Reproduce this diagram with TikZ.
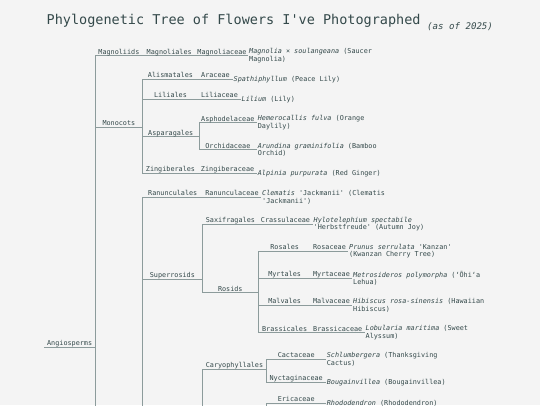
\documentclass[tikz,border=0pt]{standalone}
\usepackage{fontspec}
\setmonofont{DejaVu Sans Mono}
\definecolor{paper}{HTML}{F4F4F4}
\definecolor{ink}{HTML}{34494A}
\definecolor{twig}{HTML}{8C9B9B}
\tikzset{
    every node/.style={text=ink},
    branch/.style={
        draw=twig,
        line width=0.7pt},
    clade/.style={
        anchor=base,
        yshift=1.4pt,
        inner sep=0pt,
        font=\ttfamily\fontsize{6.8}{7.4}\selectfont},
    leaf/.style={
        anchor=west,
        inner sep=1pt,
        align=left,
        font=\ttfamily\fontsize{6.8}{7.3}\selectfont}}

\begin{document}
\begin{tikzpicture}[x=1pt,y=-1pt]
    \fill[paper] (0,0) rectangle (540,405);
    \useasboundingbox (0,0) rectangle (540,405);
    \clip (0,0) rectangle (540,405);

    \node[anchor=base west, inner sep=0pt, font=\ttfamily\fontsize{13.5}{16}\selectfont] (title) at (46.5,24) {Phylogenetic Tree of Flowers I've Photographed};
    \node[anchor=base west, inner sep=0pt, font=\ttfamily\itshape\fontsize{9.1}{11}\selectfont] (asof) at (427,29.5) {(as of 2025)};

    % branch points
    \coordinate (rootstart) at (44,347);
    \coordinate (angio) at (95.3,347);
    \coordinate (magnoliids) at (142.5,55.7);
    \coordinate (magnoliales) at (196,55.7);
    \coordinate (magnoliaceae) at (248,55.7);
    \coordinate (monocots) at (142.5,127.3);
    \coordinate (alismatales) at (198.5,79.3);
    \coordinate (araceae) at (232.5,79.3);
    \coordinate (liliales) at (198.5,99.3);
    \coordinate (liliaceae) at (240.5,99.3);
    \coordinate (asparagales) at (199,136.5);
    \coordinate (asphodelaceae) at (256.7,122.7);
    \coordinate (orchidaceae) at (256.7,149.7);
    \coordinate (zingiberales) at (198.5,173.3);
    \coordinate (zingiberaceae) at (256.7,173.3);
    \coordinate (eudicots) at (142.5,640);
    \coordinate (ranunculales) at (203,197.3);
    \coordinate (ranunculaceae) at (261,197.3);
    \coordinate (superrosids) at (202.3,279.3);
    \coordinate (saxifragales) at (258.5,224.3);
    \coordinate (crassulaceae) at (312.5,224.3);
    \coordinate (rosids) at (258.3,292.5);
    \coordinate (rosales) at (311,251.3);
    \coordinate (rosaceae) at (348,251.3);
    \coordinate (myrtales) at (311,278.3);
    \coordinate (myrtaceae) at (352,278.3);
    \coordinate (malvales) at (311,305.3);
    \coordinate (malvaceae) at (352,305.3);
    \coordinate (brassicales) at (311,332.5);
    \coordinate (brassicaceae) at (364.5,332.5);
    \coordinate (superasterids) at (202.3,470);
    \coordinate (caryophyllales) at (266.7,369.3);
    \coordinate (cactaceae) at (325.7,359.3);
    \coordinate (nyctaginaceae) at (325.7,382.3);
    \coordinate (ericales) at (266.7,440);
    \coordinate (ericaceae) at (325.7,403);

    \draw[branch] (rootstart) -- node[clade] {Angiosperms} (angio);
    \draw[branch] (angio) |- node[clade,pos=0.75] {Magnoliids} (magnoliids)
        -- node[clade] {Magnoliales} (magnoliales)
        -- node[clade] {Magnoliaceae} (magnoliaceae);
    \draw[branch] (angio) |- node[clade,pos=0.75] {Monocots} (monocots);
    \draw[branch] (angio) |- (eudicots);

    % monocots
    \draw[branch] (monocots) |- node[clade,pos=0.75] {Alismatales} (alismatales)
        -- node[clade] {Araceae} (araceae);
    \draw[branch] (monocots) |- node[clade,pos=0.75] {Liliales} (liliales)
        -- node[clade] {Liliaceae} (liliaceae);
    \draw[branch] (monocots) |- node[clade,pos=0.75] {Asparagales} (asparagales);
    \draw[branch] (asparagales) |- node[clade,pos=0.75] {Asphodelaceae} (asphodelaceae);
    \draw[branch] (asparagales) |- node[clade,pos=0.75] {Orchidaceae} (orchidaceae);
    \draw[branch] (monocots) |- node[clade,pos=0.75] {Zingiberales} (zingiberales)
        -- node[clade] {Zingiberaceae} (zingiberaceae);

    % eudicots
    \draw[branch] (eudicots) |- node[clade,pos=0.75] {Ranunculales} (ranunculales)
        -- node[clade] {Ranunculaceae} (ranunculaceae);
    \draw[branch] (eudicots) |- node[clade,pos=0.75] {Superrosids} (superrosids);
    \draw[branch] (superrosids) |- node[clade,pos=0.75] {Saxifragales} (saxifragales)
        -- node[clade] {Crassulaceae} (crassulaceae);
    \draw[branch] (superrosids) |- node[clade,pos=0.75] {Rosids} (rosids);
    \draw[branch] (rosids) |- node[clade,pos=0.75] {Rosales} (rosales)
        -- node[clade] {Rosaceae} (rosaceae);
    \draw[branch] (rosids) |- node[clade,pos=0.75] {Myrtales} (myrtales)
        -- node[clade] {Myrtaceae} (myrtaceae);
    \draw[branch] (rosids) |- node[clade,pos=0.75] {Malvales} (malvales)
        -- node[clade] {Malvaceae} (malvaceae);
    \draw[branch] (rosids) |- node[clade,pos=0.75] {Brassicales} (brassicales)
        -- node[clade] {Brassicaceae} (brassicaceae);
    \draw[branch] (eudicots) |- (superasterids);
    \draw[branch] (superasterids) |- node[clade,pos=0.75] {Caryophyllales} (caryophyllales);
    \draw[branch] (caryophyllales) |- node[clade,pos=0.75] {Cactaceae} (cactaceae);
    \draw[branch] (caryophyllales) |- node[clade,pos=0.75] {Nyctaginaceae} (nyctaginaceae);
    \draw[branch] (superasterids) |- (ericales);
    \draw[branch] (ericales) |- node[clade,pos=0.75] {Ericaceae} (ericaceae);

    % species
    \node[leaf] (magnolia) at (magnoliaceae) {\textit{Magnolia × soulangeana} (Saucer\\Magnolia)};
    \node[leaf] (spathiphyllum) at (araceae) {\textit{Spathiphyllum} (Peace Lily)};
    \node[leaf] (lilium) at (liliaceae) {\textit{Lilium} (Lily)};
    \node[leaf] (hemerocallis) at (asphodelaceae) {\textit{Hemerocallis fulva} (Orange\\Daylily)};
    \node[leaf] (arundina) at (orchidaceae) {\textit{Arundina graminifolia} (Bamboo\\Orchid)};
    \node[leaf] (alpinia) at (zingiberaceae) {\textit{Alpinia purpurata} (Red Ginger)};
    \node[leaf] (clematis) at (ranunculaceae) {\textit{Clematis} 'Jackmanii' (Clematis\\'Jackmanii')};
    \node[leaf] (hylotelephium) at (crassulaceae) {\textit{Hylotelephium spectabile}\\'Herbstfreude' (Autumn Joy)};
    \node[leaf] (prunus) at (rosaceae) {\textit{Prunus serrulata} 'Kanzan'\\(Kwanzan Cherry Tree)};
    \node[leaf] (metrosideros) at (myrtaceae) {\textit{Metrosideros polymorpha} (ʻŌhiʻa\\Lehua)};
    \node[leaf] (hibiscus) at (malvaceae) {\textit{Hibiscus rosa-sinensis} (Hawaiian\\Hibiscus)};
    \node[leaf] (lobularia) at (brassicaceae) {\textit{Lobularia maritima} (Sweet\\Alyssum)};
    \node[leaf] (schlumbergera) at (cactaceae) {\textit{Schlumbergera} (Thanksgiving\\Cactus)};
    \node[leaf] (bougainvillea) at (nyctaginaceae) {\textit{Bougainvillea} (Bougainvillea)};
    \node[leaf] (rhododendron) at (ericaceae) {\textit{Rhododendron} (Rhododendron)};
\end{tikzpicture}
\end{document}
